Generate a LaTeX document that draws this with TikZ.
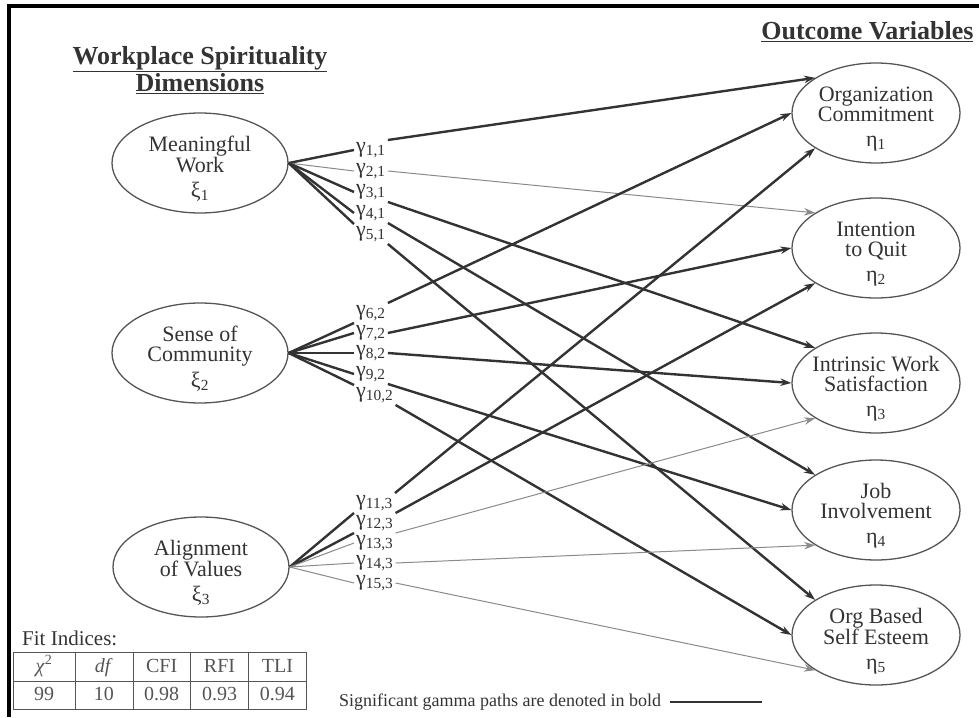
\documentclass[tikz,border=0pt]{standalone}
\usepackage{fontspec}
\setmainfont{Liberation Serif}
\usepackage{array}
\usepackage{xcolor}
\usetikzlibrary{arrows.meta,positioning,shapes.geometric}

\definecolor{ink}{HTML}{333333}
\definecolor{rim}{HTML}{555555}
\definecolor{faint}{HTML}{8A8A8A}
\newcommand{\gam}[1]{γ\textsubscript{#1}}

\begin{document}
\begin{tikzpicture}[x=1pt, y=-1pt, >={Stealth[length=11pt, width=7.5pt]},
  latent/.style={draw=rim, line width=1.3pt, ellipse, minimum width=176pt, minimum height=100pt, inner sep=0pt},
  outcome/.style={latent, minimum width=168pt},
  inside/.style={align=center, text=ink, inner sep=0pt, yshift=-6pt, font=\fontsize{22}{20}\selectfont},
  gamma/.style={anchor=west, inner sep=2pt, text=ink, font=\fontsize{22}{21}\selectfont},
  heading/.style={align=center, text=ink, font=\fontsize{26}{25}\selectfont\bfseries},
  note/.style={text=ink, inner sep=0pt, font=\fontsize{18}{20}\selectfont},
  sig/.style={draw=ink, line width=2.4pt},
  weak/.style={draw=faint, line width=1pt}]
  \useasboundingbox (0,0) rectangle (979,717);
  \draw[line width=4pt] (979,6.5) -- (9,6.5) -- (9,717);

  % headings
  \node[heading] (lefthead) at (200,70) {\underline{Workplace Spirituality}\\\underline{Dimensions}};
  \node[heading, anchor=east] (righthead) at (977,32) {\underline{Outcome Variables}};

  % workplace spirituality dimensions
  \node[latent, label={[inside]center:{Meaningful\\Work\\[5pt]ξ\textsubscript{1}}}] (xi1) at (200,163) {};
  \node[latent, label={[inside]center:{Sense of\\Community\\[5pt]ξ\textsubscript{2}}}] (xi2) at (200,353) {};
  \node[latent, label={[inside]center:{Alignment\\of Values\\[5pt]ξ\textsubscript{3}}}] (xi3) at (201,567) {};

  % outcome variables
  \node[outcome, label={[inside]center:{Organization\\Commitment\\[5pt]η\textsubscript{1}}}] (eta1) at (876,113) {};
  \node[outcome, label={[inside]center:{Intention\\to Quit\\[5pt]η\textsubscript{2}}}] (eta2) at (876,248) {};
  \node[outcome, label={[inside]center:{Intrinsic Work\\Satisfaction\\[5pt]η\textsubscript{3}}}] (eta3) at (876,383) {};
  \node[outcome, label={[inside]center:{Job\\Involvement\\[5pt]η\textsubscript{4}}}] (eta4) at (876,510) {};
  \node[outcome, label={[inside]center:{Org Based\\Self Esteem\\[5pt]η\textsubscript{5}}}] (eta5) at (876,635) {};

  % gamma labels
  \node[gamma] (g11) at (354,150) {\gam{1,1}};
  \node[gamma] (g21) at (354,171) {\gam{2,1}};
  \node[gamma] (g31) at (354,192) {\gam{3,1}};
  \node[gamma] (g41) at (354,213) {\gam{4,1}};
  \node[gamma] (g51) at (354,234) {\gam{5,1}};
  \node[gamma] (g62) at (354,313) {\gam{6,2}};
  \node[gamma] (g72) at (354,333) {\gam{7,2}};
  \node[gamma] (g82) at (354,353) {\gam{8,2}};
  \node[gamma] (g92) at (354,374) {\gam{9,2}};
  \node[gamma] (g102) at (354,395) {\gam{10,2}};
  \node[gamma] (g113) at (354,503) {\gam{11,3}};
  \node[gamma] (g123) at (354,523) {\gam{12,3}};
  \node[gamma] (g133) at (354,543) {\gam{13,3}};
  \node[gamma] (g143) at (354,563) {\gam{14,3}};
  \node[gamma] (g153) at (354,583) {\gam{15,3}};

  % dimension to gamma
  \draw[sig] (xi1.east) -- (g11.west);
  \draw[weak] (xi1.east) -- (g21.west);
  \draw[sig] (xi1.east) -- (g31.west);
  \draw[sig] (xi1.east) -- (g41.west);
  \draw[sig] (xi1.east) -- (g51.north west);
  \draw[sig] (xi2.east) -- (g62.south west);
  \draw[sig] (xi2.east) -- (g72.west);
  \draw[sig] (xi2.east) -- (g82.west);
  \draw[sig] (xi2.east) -- (g92.west);
  \draw[sig] (xi2.east) -- (g102.north west);
  \draw[sig] (xi3.east) -- (g113.south west);
  \draw[sig] (xi3.east) -- (g123.south west);
  \draw[weak] (xi3.east) -- (g133.west);
  \draw[weak] (xi3.east) -- (g143.west);
  \draw[weak] (xi3.east) -- (g153.west);

  % gamma to outcome
  \draw[sig, ->] (g11.north east) -- (eta1.150);
  \draw[weak, ->] (g21.east) -- (eta2.150);
  \draw[sig, ->] (g31.south east) -- (eta3.150);
  \draw[sig, ->] (g41.south east) -- (eta4.150);
  \draw[sig, ->] (g51.south east) -- (eta5.150);
  \draw[sig, ->] (g62.north east) -- (eta1.west);
  \draw[sig, ->] (g72.east) -- (eta2.west);
  \draw[sig, ->] (g82.east) -- (eta3.west);
  \draw[sig, ->] (g92.south east) -- (eta4.west);
  \draw[sig, ->] (g102.south east) -- (eta5.west);
  \draw[sig, ->] (g113.north east) -- (eta1.210);
  \draw[sig, ->] (g123.north east) -- (eta2.210);
  \draw[weak, ->] (g133.north east) -- (eta3.210);
  \draw[weak, ->] (g143.east) -- (eta4.210);
  \draw[weak, ->] (g153.east) -- (eta5.210);

  % fit indices
  \node[note, anchor=west, font=\fontsize{21}{21}\selectfont] (fithead) at (22,638) {Fit Indices:};
  \node[note, anchor=north west, text=rim, font=\fontsize{20}{22}\selectfont] (fit) at (13,652) {%
    \setlength{\tabcolsep}{0pt}\renewcommand{\arraystretch}{1.27}%
    \begin{tabular}{|>{\centering\arraybackslash}p{61pt}|*{4}{>{\centering\arraybackslash}p{57.5pt}|}}
      \hline
      \textit{χ}\textsuperscript{2} & \textit{df} & CFI & RFI & TLI \\ \hline
      99 & 10 & 0.98 & 0.93 & 0.94 \\ \hline
    \end{tabular}};

  % legend
  \node[note, anchor=west] (key) at (339,702) {Significant gamma paths are denoted in bold};
  \coordinate (keyend) at (762,702);
  \draw[sig] ([xshift=9pt]key.east) -- (keyend);
\end{tikzpicture}
\end{document}
